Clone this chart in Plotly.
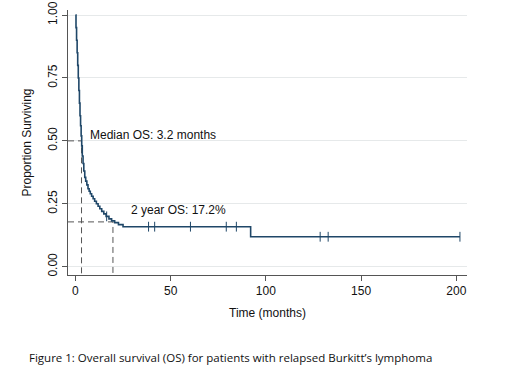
import plotly.graph_objects as go

# Kaplan-Meier step curve
km_time = [0, 0.3, 0.6, 0.9, 1.2, 1.5, 1.8, 2.1, 2.4, 2.7, 3.0, 3.3, 3.6, 4.0, 4.4, 4.9,
           5.4, 6.0, 6.6, 7.2, 7.8, 8.5, 9.3, 10.1, 11.0, 11.9, 12.8, 13.8, 14.9, 16.1,
           17.6, 19.0, 20.6, 22.6, 25.0, 92.0, 201.9]
km_surv = [1.0, 0.95, 0.90, 0.85, 0.80, 0.75, 0.70, 0.65, 0.60, 0.56, 0.52, 0.48, 0.44,
           0.41, 0.38, 0.355, 0.34, 0.325, 0.31, 0.30, 0.29, 0.28, 0.27, 0.26, 0.25, 0.24,
           0.23, 0.22, 0.21, 0.20, 0.19, 0.182, 0.175, 0.167, 0.159, 0.119, 0.119]

# censored observations
cens_time = [16.4, 38.4, 41.6, 60.4, 79.2, 84.5, 128.5, 132.7, 201.9]
cens_surv = [0.20, 0.159, 0.159, 0.159, 0.159, 0.159, 0.119, 0.119, 0.119]

median_time, median_surv = 3.2, 0.5
two_year_time, two_year_surv = 19.7, 0.178

x_ticks = [0, 50, 100, 150, 200]
y_ticks = [0, 0.25, 0.5, 0.75, 1.0]
y_labels = ["0.00", "0.25", "0.50", "0.75", "1.00"]

x_min, x_max = -3.9, 205.6
y_min, y_max = -0.033, 1.02

line_col = "#1f4768"
fig = go.Figure()
dash_style = dict(color="#555555", width=1, dash="6px,4px")
# reference dashed lines
fig.add_trace(go.Scatter(x=[x_min, median_time, median_time], y=[median_surv, median_surv, y_min],
                         mode="lines", line=dash_style, hoverinfo="skip", cliponaxis=False))
fig.add_trace(go.Scatter(x=[x_min, two_year_time, two_year_time], y=[two_year_surv, two_year_surv, y_min],
                         mode="lines", line=dash_style, hoverinfo="skip", cliponaxis=False))
fig.add_trace(go.Scatter(x=km_time, y=km_surv, mode="lines", line=dict(color=line_col, width=1.6, shape="hv")))
fig.add_trace(go.Scatter(x=cens_time, y=cens_surv, mode="markers",
                         marker=dict(symbol="line-ns-open", size=7, color=line_col,
                                     line=dict(color=line_col, width=1))))

fig.add_annotation(x=median_time, y=median_surv, text="Median OS: 3.2 months", showarrow=False,
                   xanchor="left", yanchor="middle", xshift=6, yshift=6,
                   font=dict(family="Liberation Sans, Arial", size=12, color="#111111"))
fig.add_annotation(x=two_year_time, y=two_year_surv, text="2 year OS: 17.2%", showarrow=False,
                   xanchor="left", yanchor="middle", xshift=16, yshift=12,
                   font=dict(family="Liberation Sans, Arial", size=12, color="#111111"))
fig.add_annotation(x=-0.103, y=-0.31, xref="paper", yref="paper", yanchor="middle", xanchor="left",
                   text="Figure 1: Overall survival (OS) for patients with relapsed Burkitt\u2019s lymphoma",
                   showarrow=False, font=dict(family="Open Sans", size=11.5, color="#111111"))

fig.update_layout(
    width=520, height=373, showlegend=False,
    paper_bgcolor="white", plot_bgcolor="white",
    margin=dict(l=68, r=53, t=10, b=98, autoexpand=False),
    font=dict(family="Liberation Sans, Arial", size=12, color="#111111"),
    xaxis=dict(range=[x_min, x_max], tickvals=x_ticks, ticks="outside", ticklen=5,
               tickcolor="#555555", showline=True, linecolor="#555555", linewidth=1,
               showgrid=False, zeroline=False, automargin=False,
               title=dict(text="Time (months)", standoff=11, font=dict(size=12))),
    yaxis=dict(range=[y_min, y_max], tickvals=y_ticks, ticktext=y_labels, tickangle=-90,
               ticks="outside", ticklen=5, tickcolor="#555555", showline=True,
               linecolor="#555555", linewidth=1, gridcolor="#e6e9ea", gridwidth=1,
               zeroline=False, automargin=False, ticklabeloverflow="allow",
               title=dict(text="Proportion Surviving", standoff=12, font=dict(size=12))),
)

# remove the page's default body margin so the 520x373 figure fills the window exactly
fig.write_html("out.html", config={"displayModeBar": False},
               post_script="document.body.style.margin='0';")
